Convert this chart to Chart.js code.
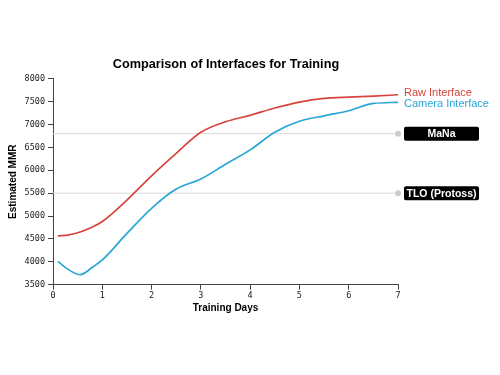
<!DOCTYPE html>
<html>
<head>
<meta charset="utf-8">
<script src="https://cdn.jsdelivr.net/npm/chart.js@4/dist/chart.umd.min.js"></script>
<style>
  html, body { margin: 0; padding: 0; background: #fff; }
  #wrap { width: 500px; height: 375px; }
</style>
</head>
<body>
<div id="wrap"><canvas id="c" width="500" height="375"></canvas></div>
<script>
// ---- data ----
const titleText = "Comparison of Interfaces for Training";
const xAxisTitle = "Training Days";
const yAxisTitle = "Estimated MMR";

const rawDays   = [0.1, 0.3, 0.55, 0.8, 1.0, 1.5, 2.0, 2.5, 3.0, 3.5, 4.0, 4.5, 5.0, 5.5, 6.0, 6.5, 7.0];
const rawMMR    = [4565, 4585, 4650, 4760, 4880, 5350, 5880, 6370, 6830, 7060, 7200, 7360, 7490, 7570, 7600, 7620, 7650];

const camDays   = [0.1, 0.3, 0.55, 0.8, 1.0, 1.5, 2.0, 2.5, 3.0, 3.5, 4.0, 4.5, 5.0, 5.5, 6.0, 6.5, 7.0];
const camMMR    = [4010, 3840, 3720, 3880, 4040, 4620, 5170, 5590, 5810, 6130, 6445, 6830, 7070, 7190, 7300, 7460, 7485];

const seriesNames = ["Raw Interface", "Camera Interface"];

const refNames  = ["MaNa", "TLO (Protoss)"];
const refMMR    = [6800, 5500];
const refRange  = [0, 7];

const xTicks = [0, 1, 2, 3, 4, 5, 6, 7];
const yTicks = [3500, 4000, 4500, 5000, 5500, 6000, 6500, 7000, 7500, 8000];

// ---- styles ----
const RED = "#d6453d";
const BLUE = "#28a6d6";
const REF = "#d9d9d9";
const SANS = "'Liberation Sans', Arial, Helvetica, sans-serif";
const MONO = "'DejaVu Sans Mono', monospace";

function pts(xs, ys) { return xs.map((x, i) => ({ x: x, y: ys[i] })); }

const refDatasets = refMMR.map((v, i) => ({
  label: refNames[i],
  data: pts(refRange, [v, v]),
  borderColor: REF,
  borderWidth: 1,
  pointRadius: [0, 3],
  pointBackgroundColor: "#cccccc",
  pointBorderWidth: 0,
  tension: 0,
  clip: false,
  order: 2
}));

const endLabels = {
  id: "endLabels",
  afterDatasetsDraw(chart) {
    const { ctx, scales: { x, y } } = chart;
    ctx.save();
    // series end labels
    ctx.font = "11px " + SANS;
    ctx.textBaseline = "middle";
    ctx.textAlign = "left";
    const lx = x.getPixelForValue(rawDays[rawDays.length - 1]) + 6;
    ctx.fillStyle = RED;
    ctx.fillText(seriesNames[0], lx, y.getPixelForValue(rawMMR[rawMMR.length - 1]) - 2);
    ctx.fillStyle = BLUE;
    ctx.fillText(seriesNames[1], lx, y.getPixelForValue(camMMR[camMMR.length - 1]) + 1.5);
    // reference labels in black boxes
    ctx.font = "bold 10.5px " + SANS;
    ctx.textAlign = "center";
    refMMR.forEach((v, i) => {
      const cy = y.getPixelForValue(v);
      const bx = x.getPixelForValue(refRange[1]) + 6;
      const bw = 75, bh = 14;
      ctx.fillStyle = "#000";
      ctx.beginPath();
      ctx.roundRect(bx, cy - bh / 2, bw, bh, 2);
      ctx.fill();
      ctx.fillStyle = "#fff";
      ctx.fillText(refNames[i], bx + bw / 2, cy + 0.5);
    });
    ctx.restore();
  }
};

new Chart(document.getElementById("c"), {
  type: "line",
  data: {
    datasets: [
      ...refDatasets,
      {
        label: seriesNames[0],
        data: pts(rawDays, rawMMR),
        borderColor: RED,
        borderWidth: 1.7,
        pointRadius: 0,
        cubicInterpolationMode: "monotone",
        order: 1
      },
      {
        label: seriesNames[1],
        data: pts(camDays, camMMR),
        borderColor: BLUE,
        borderWidth: 1.7,
        pointRadius: 0,
        cubicInterpolationMode: "monotone",
        order: 1
      }
    ]
  },
  options: {
    responsive: false,
    animation: false,
    devicePixelRatio: 1,
    layout: { padding: { left: 0, right: 48, top: 0, bottom: 0 } },
    plugins: {
      legend: { display: false },
      tooltip: { enabled: false },
      title: {
        display: true,
        text: titleText,
        color: "#000",
        font: { family: SANS, size: 12.7, weight: "bold" },
        padding: { top: 57, bottom: 6.5 }
      }
    },
    scales: {
      x: {
        type: "linear",
        min: 0, max: 7,
        afterBuildTicks(s) { s.ticks = xTicks.map(v => ({ value: v })); },
        afterFit(s) { s.height = 90.3; },
        ticks: { color: "#222", font: { family: MONO, size: 8.5 }, padding: 1, maxRotation: 0,
                 callback: v => String(v) },
        grid: { drawOnChartArea: false, tickLength: 5, color: "#444", tickWidth: 1 },
        border: { display: true, color: "#444", width: 1 },
        title: {
          display: true, text: xAxisTitle, color: "#000",
          font: { family: SANS, size: 10, weight: "bold" },
          padding: { top: 0, bottom: 60.5 }
        }
      },
      y: {
        type: "linear",
        min: 3500, max: 8000,
        afterBuildTicks(s) { s.ticks = yTicks.map(v => ({ value: v })); },
        afterFit(s) { s.width = 53; },
        ticks: { color: "#222", font: { family: MONO, size: 8.5 }, padding: 3,
                 callback: v => String(v) },
        grid: { drawOnChartArea: false, tickLength: 5, color: "#444", tickWidth: 1 },
        border: { display: true, color: "#444", width: 1 },
        title: {
          display: true, text: yAxisTitle, color: "#000",
          font: { family: SANS, size: 10, weight: "bold" },
          padding: { top: 7, bottom: 0 }
        }
      },
      yr: {
        type: "linear",
        position: "right",
        display: true,
        min: 3500, max: 8000,
        afterFit(s) { s.width = 54; },
        ticks: { display: false },
        grid: { display: false, drawOnChartArea: false },
        border: { display: false },
        title: { display: false }
      }
    }
  },
  plugins: [endLabels]
});
</script>
</body>
</html>
